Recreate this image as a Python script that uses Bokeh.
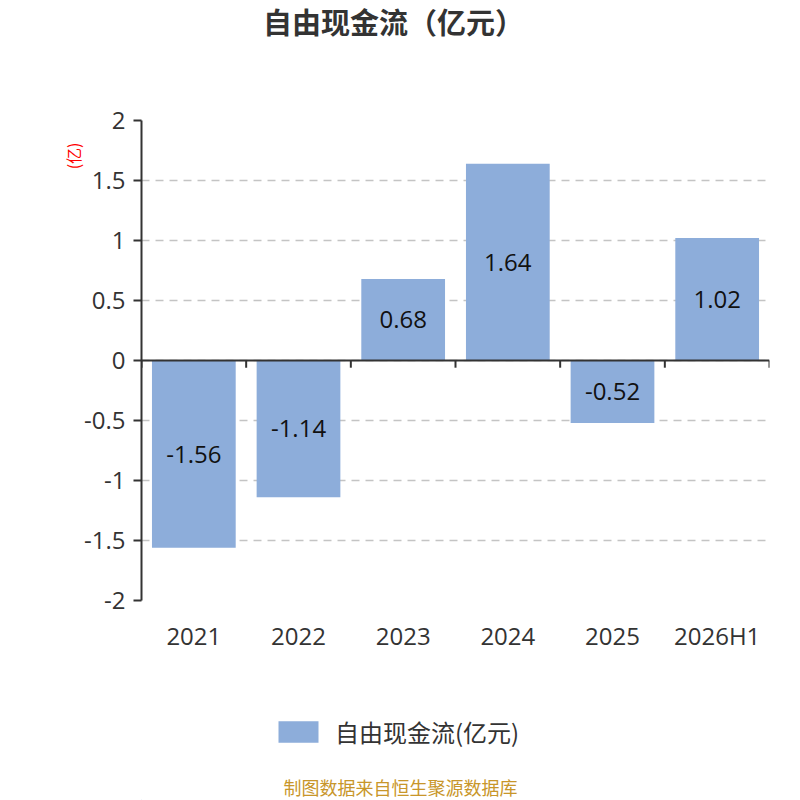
from bokeh.plotting import figure
from bokeh.layouts import column
from bokeh.models import (ColumnDataSource, FixedTicker, Title, Legend, LegendItem, Span, Label, Range1d)
from bokeh.embed import file_html
from bokeh.resources import INLINE
from bokeh.core.properties import value

categories = ["2021", "2022", "2023", "2024", "2025", "2026H1"]
values = [-1.56, -1.14, 0.68, 1.64, -0.52, 1.02]
value_labels = ["-1.56", "-1.14", "0.68", "1.64", "-0.52", "1.02"]
y_ticks = [-2, -1.5, -1, -0.5, 0, 0.5, 1, 1.5, 2]
y_tick_labels = ["-2", "-1.5", "-1", "-0.5", "0", "0.5", "1", "1.5", "2"]
title_text = "自由现金流（亿元）"
series_name = "自由现金流(亿元)"
unit_text = "(亿)"
source_text = "制图数据来自恒生聚源数据库"

BAR = "#8DADDA"
AX = "#333333"
NUM_FONT = "Open Sans"
CJK_FONT = "Noto Sans CJK SC"
NUM_SIZE = "24px"
LEFT, RIGHT = 141, 769


def blank_figure(h):
    # frames of plots in a column are aligned with the main chart's frame,
    # so map data x straight onto page pixels
    f = figure(width=800, height=h, x_range=Range1d(LEFT, RIGHT), y_range=Range1d(0, h),
               x_axis_type=None, y_axis_type=None, output_backend="svg", toolbar_location=None,
               min_border_left=LEFT, min_border_right=800 - RIGHT, min_border_top=0, min_border_bottom=0)
    f.outline_line_color = None
    f.title.visible = False
    return f


# ---- title strip ----
p0 = blank_figure(100)
p0.add_layout(Label(x=393, y=80, text=title_text, text_align="center", text_baseline="middle",
                    text_color=AX, text_font=CJK_FONT, text_font_size="29px", text_font_style="bold"))

# ---- main chart ----
src = ColumnDataSource(dict(x=categories, top=values, mid=[v / 2 for v in values], lab=value_labels))

p = figure(width=800, height=560, x_range=categories, y_range=(-2, 2),
           output_backend="svg", toolbar_location=None,
           min_border_left=LEFT, min_border_right=800 - RIGHT, min_border_top=20, min_border_bottom=60)
p.outline_line_color = None
p.title.visible = False

r = p.vbar(x="x", top="top", bottom=0, width=0.8, source=src, fill_color=BAR, line_color=None)
p.text(x="x", y="mid", text="lab", source=src, text_align="center", text_baseline="middle",
       text_font=value(NUM_FONT), text_font_size=NUM_SIZE, text_color="#111111")

p.yaxis.ticker = FixedTicker(ticks=y_ticks)
p.yaxis.major_label_overrides = {t: l for t, l in zip(y_ticks, y_tick_labels)}
p.yaxis.axis_line_color = AX
p.yaxis.axis_line_width = 2
p.yaxis.major_tick_line_color = AX
p.yaxis.major_tick_line_width = 2
p.yaxis.major_tick_out = 8
p.yaxis.major_tick_in = 0
p.yaxis.minor_tick_line_color = None
p.yaxis.major_label_text_font = NUM_FONT
p.yaxis.major_label_text_font_size = NUM_SIZE
p.yaxis.major_label_text_color = AX
p.yaxis.major_label_standoff = 8

p.ygrid.grid_line_color = "#c4c4c4"
p.ygrid.grid_line_dash = "8 6"
p.ygrid.grid_line_width = 1.3
p.xgrid.grid_line_color = None

p.xaxis.axis_line_color = None
p.xaxis.major_tick_line_color = None
p.xaxis.minor_tick_line_color = None
p.xaxis.major_label_text_font = NUM_FONT
p.xaxis.major_label_text_font_size = NUM_SIZE
p.xaxis.major_label_text_color = AX
p.xaxis.major_label_standoff = 12

# zero line with ticks at category boundaries
p.add_layout(Span(location=0, dimension="width", line_color=AX, line_width=2))
bx = [(c, -0.5) for c in categories] + [(categories[-1], 0.5)]
p.segment(x0=bx, y0=[0] * len(bx), x1=bx, y1=[-0.06] * len(bx), line_color=AX, line_width=2)

unit_title = Title(text=unit_text, align="right", offset=22, text_color="red", text_font=CJK_FONT,
                   text_font_size="16px", text_font_style="normal")
if "standoff" in Title.properties():
    unit_title.standoff = -6
p.add_layout(unit_title, "left")

# ---- legend + source strip ----
p2 = blank_figure(140)
# legend swatch renderer: one bar placed outside the visible range
dummy = p2.vbar(x=[-1000], top=[1], bottom=0, width=1, fill_color=BAR, line_color=None)
legend = Legend(items=[LegendItem(label=series_name, renderers=[dummy])], location=(132, 51),
                orientation="horizontal", glyph_width=50, glyph_height=27, padding=0, margin=0,
                border_line_color=None, background_fill_alpha=0, label_text_font=CJK_FONT,
                label_text_font_size="24px", label_text_color=AX, label_standoff=12)
p2.add_layout(legend, "center")
p2.add_layout(Label(x=400, y=14, text=source_text, text_align="center", text_baseline="middle",
                    text_color="#C8962A", text_font=CJK_FONT, text_font_size="18px"))

layout = column(p0, p, p2, spacing=0)
open("out.html", "w").write(file_html(layout, INLINE))
